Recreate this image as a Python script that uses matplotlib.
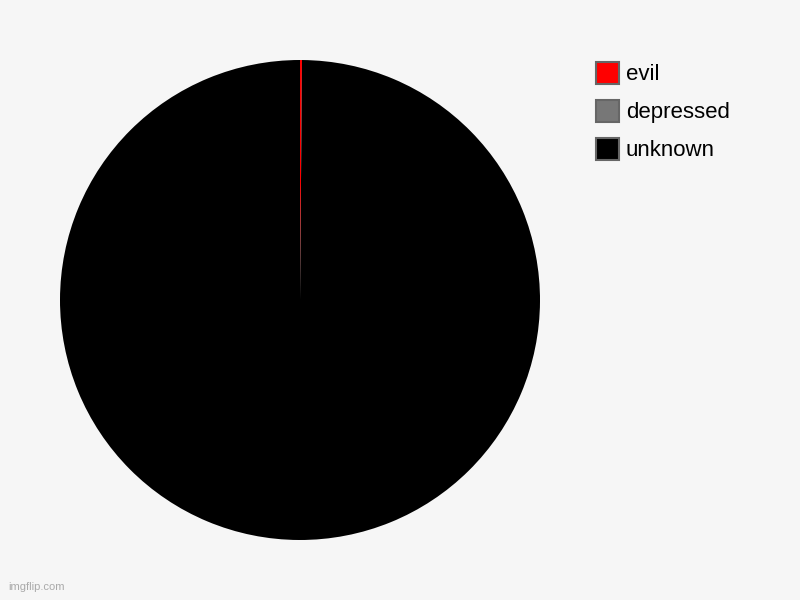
import matplotlib
matplotlib.use("Agg")
import matplotlib.pyplot as plt
from matplotlib.patches import Patch

plt.rcParams['font.family'] = ['Liberation Sans', 'DejaVu Sans']

labels = ["evil", "depressed", "unknown"]
values = [1, 0, 750]
colors = ["#ff0000", "#777777", "#000000"]

bg = "#f6f6f6"
fig = plt.figure(figsize=(8, 6), dpi=100, facecolor=bg)
ax = fig.add_axes([60/800, 60/600, 480/800, 480/600])
ax.set_facecolor(bg)
ax.pie(values, colors=colors, startangle=90, counterclock=False,
       wedgeprops=dict(linewidth=0), radius=1.0)
ax.set_xlim(-1, 1)
ax.set_ylim(-1, 1)
ax.set_aspect('equal')
ax.axis('off')

handles = [Patch(facecolor=c, edgecolor="#666666", linewidth=1.5) for c in colors]
leg = fig.legend(handles, labels, loc='upper left', bbox_to_anchor=(587/800, 1 - 53/600),
                 frameon=False, fontsize=16, handlelength=1.04, handleheight=1.15,
                 handletextpad=0.3, labelspacing=0.65, borderaxespad=0)

fig.text(8/800, 1 - 592/600, "imgflip.com", fontsize=8, color="#aaaaaa", va='bottom')

fig.savefig("out.png", dpi=100, facecolor=bg)
